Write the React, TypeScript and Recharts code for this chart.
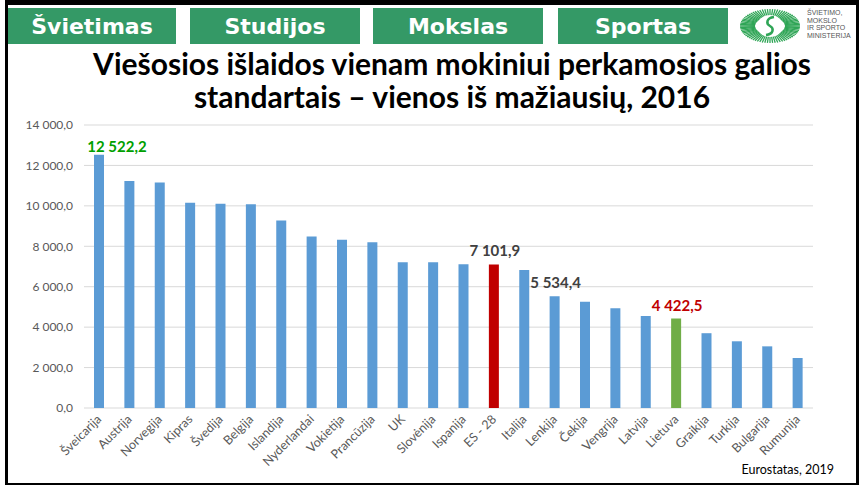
import React from 'react';
import { BarChart, Bar, XAxis, YAxis, CartesianGrid, Cell, LabelList } from 'recharts';

const countries = [
  'Šveicarija', 'Austrija', 'Norvegija', 'Kipras', 'Švedija', 'Belgija',
  'Islandija', 'Nyderlandai', 'Vokietija', 'Prancūzija', 'UK', 'Slovėnija',
  'Ispanija', 'ES - 28', 'Italija', 'Lenkija', 'Čekija', 'Vengrija',
  'Latvija', 'Lietuva', 'Graikija', 'Turkija', 'Bulgarija', 'Rumunija',
];
const spending = [
  12522.2, 11230, 11150, 10150, 10100, 10080,
  9270, 8480, 8320, 8200, 7210, 7210,
  7110, 7101.9, 6830, 5534.4, 5260, 4930,
  4550, 4422.5, 3700, 3300, 3050, 2475,
];
const yTicks = [0, 2000, 4000, 6000, 8000, 10000, 12000, 14000];
const labelled = ['Šveicarija', 'ES - 28', 'Lenkija', 'Lietuva'];
const menu = ['Švietimas', 'Studijos', 'Mokslas', 'Sportas'];
const logoLines = ['ŠVIETIMO,', 'MOKSLO', 'IR SPORTO', 'MINISTERIJA'];
const source = 'Eurostatas, 2019';

const data = countries.map((name, i) => ({ name, value: spending[i] }));

const BLUE = '#5b9bd5';
const GREEN_TAB = '#349966';

function fmt(v: number): string {
  const [int, dec] = v.toFixed(1).split('.');
  return int.replace(/\B(?=(\d{3})+(?!\d))/g, ' ') + ',' + dec;
}

function barColor(name: string) {
  if (name === 'ES - 28') return '#c00000';
  if (name === 'Lietuva') return '#70ad47';
  return BLUE;
}

function labelColor(name: string) {
  if (name === 'Šveicarija') return '#00a000';
  if (name === 'Lietuva') return '#c00000';
  return '#404040';
}

const CountryTick = ({ x, y, payload }: any) => {
  const tx = x + 3;
  const ty = y + 12;
  return (
    <text
      x={tx}
      y={ty}
      transform={`rotate(-45 ${tx} ${ty})`}
      textAnchor="end"
      fill="#595959"
      fontSize={12.5}
      fontFamily="Lato"
    >
      {payload.value}
    </text>
  );
};

const ValueLabel = (props: any) => {
  const { x, y, width, value, index } = props;
  const name = countries[index];
  if (!labelled.includes(name)) return null;
  const first = name === 'Šveicarija';
  return (
    <text
      x={x + width / 2 + (first ? 18 : 1)}
      y={y - (first ? 3 : 8)}
      textAnchor="middle"
      fill={labelColor(name)}
      fontSize={15}
      fontWeight={700}
      fontFamily="Lato"
    >
      {fmt(value)}
    </text>
  );
};

function Logo() {
  const rays = [];
  for (let i = 0; i < 72; i++) {
    const a = (i / 72) * Math.PI * 2;
    rays.push(
      <line
        key={i}
        x1={35 + Math.cos(a) * 15}
        y1={20 + Math.sin(a) * 8.5}
        x2={35 + Math.cos(a) * 30}
        y2={20 + Math.sin(a) * 17}
        stroke="#2fa556"
        strokeWidth={1.3}
      />
    );
  }
  return (
    <svg width={122} height={40} style={{ position: 'absolute', left: 735, top: 6 }}>
      {rays}
      <ellipse cx={35} cy={20} rx={13} ry={11} fill="#fff" />
      <path d="M39 11 C31 12 31 18 35 20 C39 22 39 28 31 29" stroke="#2fa556" strokeWidth={2.5} fill="none" />
      {logoLines.map((t, i) => (
        <text key={t} x={72} y={9 + i * 7.5} fontSize={7} fontFamily="Liberation Sans" fill="#555">
          {t}
        </text>
      ))}
    </svg>
  );
}

const tabs = [
  { left: 8, width: 168 },
  { left: 190, width: 170 },
  { left: 373, width: 170 },
  { left: 558, width: 170 },
];

export default function App() {
  return (
    <div style={{ position: 'absolute', left: 0, top: 0, width: 859, height: 485, background: '#fff', overflow: 'hidden' }}>
      <BarChart
        width={859}
        height={485}
        data={data}
        margin={{ top: 125, right: 46, left: 8, bottom: 17 }}
      >
        <CartesianGrid vertical={false} stroke="#d9d9d9" />
        <XAxis
          dataKey="name"
          interval={0}
          tick={<CountryTick />}
          tickLine={false}
          axisLine={false}
          tickSize={0}
          tickMargin={0}
          height={60}
        />
        <YAxis
          domain={[0, 14000]}
          ticks={yTicks}
          tickFormatter={fmt}
          tick={{ fill: '#595959', fontSize: 12, fontFamily: 'Lato' }}
          tickLine={false}
          axisLine={false}
          tickSize={0}
          tickMargin={11}
          width={76}
        />
        <Bar dataKey="value" barSize={10} isAnimationActive={false}>
          {data.map((d) => (
            <Cell key={d.name} fill={barColor(d.name)} />
          ))}
          <LabelList dataKey="value" content={<ValueLabel />} />
        </Bar>
      </BarChart>

      {tabs.map((t, i) => (
        <div
          key={menu[i]}
          style={{
            position: 'absolute',
            left: t.left,
            top: 8,
            width: t.width,
            height: 36,
            background: GREEN_TAB,
            color: '#fff',
            fontFamily: 'DejaVu Sans',
            fontWeight: 700,
            fontSize: 22,
            display: 'flex',
            alignItems: 'center',
            justifyContent: 'center',
          }}
        >
          {menu[i]}
        </div>
      ))}
      <Logo />

      <div
        style={{
          position: 'absolute',
          left: 45,
          top: 47,
          width: 814,
          textAlign: 'center',
          fontFamily: 'Lato',
          fontWeight: 700,
          fontSize: 30,
          lineHeight: '33px',
          color: '#000',
        }}
      >
        Viešosios išlaidos vienam mokiniui perkamosios galios
        <br />
        standartais – vienos iš mažiausių, 2016
      </div>

      <div
        style={{
          position: 'absolute',
          right: 25,
          top: 462,
          fontFamily: 'Lato',
          fontSize: 12.5,
          color: '#000',
        }}
      >
        {source}
      </div>

      <div
        style={{
          position: 'absolute',
          left: 5,
          top: 0,
          width: 854,
          height: 485,
          boxSizing: 'border-box',
          borderTop: '5px solid #000',
          borderLeft: '3px solid #000',
          borderRight: '3px solid #000',
          borderBottom: '2px solid #000',
          pointerEvents: 'none',
        }}
      />
    </div>
  );
}
